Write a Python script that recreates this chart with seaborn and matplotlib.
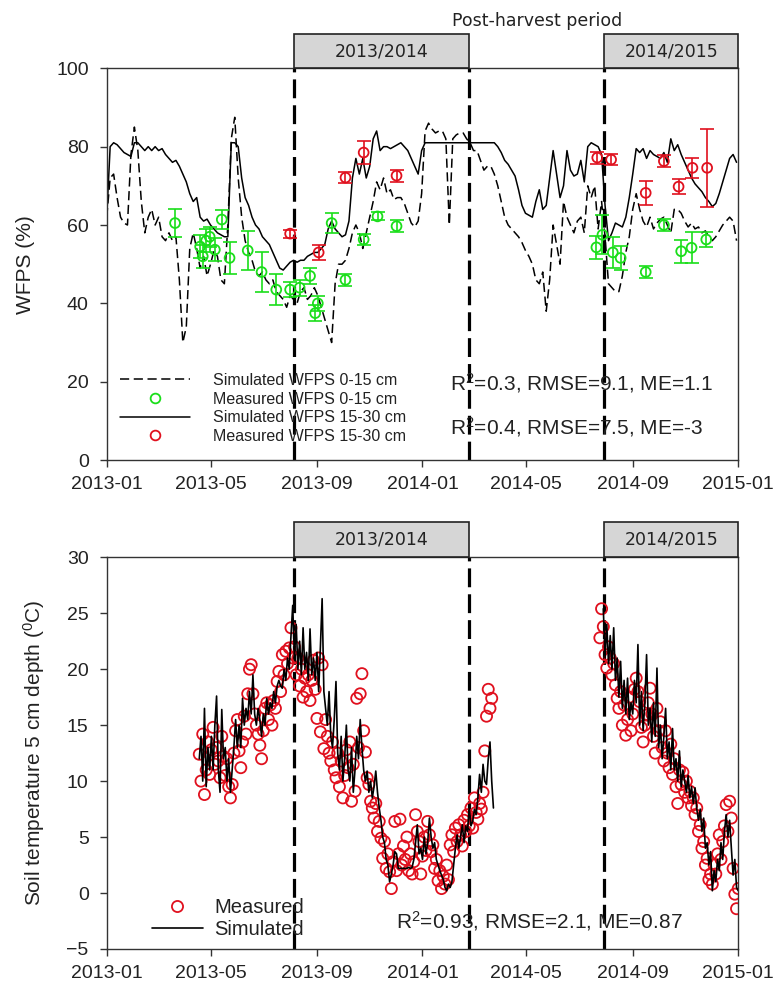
import matplotlib
matplotlib.use("Agg")
import matplotlib.pyplot as plt
import matplotlib.dates as mdates
from matplotlib.lines import Line2D
from matplotlib.patches import Rectangle
import numpy as np
import pandas as pd
import seaborn as sns

# ---------------- WFPS (top panel) ----------------
wfps_start = "2013-01-01"
wfps_step_days = 4

sim_wfps_0_15 = [
    62, 72, 73, 67, 62, 60.5, 60, 78, 85, 79,
    66, 58, 62, 64, 60, 62, 57, 56, 58, 56,
    57, 46, 30, 34, 54, 58, 54, 49, 52, 47,
    50, 53.5, 52, 46, 45, 60, 82, 87.5, 72, 62,
    56, 53, 51, 48, 47, 48, 46, 45, 46, 43,
    42, 41, 39, 42, 41, 40, 43, 44, 41, 42,
    44, 42, 39, 36, 33, 30, 45, 50, 50, 51,
    54, 58, 60, 58, 54, 58, 62, 66, 71, 69,
    72, 68, 69, 66.5, 67, 67, 65.5, 63, 60.5, 59.5,
    61, 68, 84, 86, 84.5, 83.5, 84, 84, 82, 60,
    82, 83, 83.5, 83.5, 82, 81, 79, 79, 76.5, 74,
    75, 75, 73, 70, 66, 62, 60, 59, 58, 57,
    55.5, 53.5, 52, 50, 46, 45, 48, 38, 46, 60,
    55, 50, 66, 62, 60, 58, 61, 62, 58, 70,
    67, 70, 59, 66, 57, 45, 44, 43, 43, 47,
    53, 57, 64, 68, 64, 61, 59.5, 62, 59, 60.5,
    61.5, 62, 60, 58, 64, 64, 63, 61, 59.5, 60.5,
    59, 59.5, 58, 58.5, 57, 56, 57, 58.5, 60, 61,
    62, 61, 56,
]

sim_wfps_15_30 = [
    62, 80, 81, 80.5, 79.5, 78.5, 78, 77.5, 81, 81,
    80, 79, 80, 79, 80, 79, 79.5, 78, 77, 76,
    76.5, 75, 73, 71, 68, 66, 67, 62, 61, 61.5,
    60, 59, 58, 57.5, 57, 57, 81, 81, 80, 72,
    67, 65, 62, 60, 59, 57, 56, 55, 53, 51,
    49, 48.5, 49.5, 50.5, 51, 50.5, 51, 51, 52, 52.5,
    53, 53, 54, 55, 59, 61, 59, 58, 57, 57.5,
    61, 72, 77, 73, 77, 72, 75, 82, 84, 79,
    80, 80, 79.5, 80, 80.5, 81, 80, 79, 77, 75,
    73, 79, 81, 81, 81, 81, 81, 81, 81, 81,
    81, 81, 81, 81, 81, 81, 81, 81, 81, 81,
    81, 81, 81, 80, 78.5, 76.5, 75.5, 74, 72.5, 69,
    65, 63, 62.5, 62, 66, 69, 64, 65, 72, 79,
    73, 67, 70, 79, 74, 72.5, 73, 76.5, 71, 80,
    81, 80.5, 80, 78, 65, 56, 58, 60.5, 60, 59.5,
    62, 67, 73, 79.5, 78.5, 79.5, 77, 79, 78, 77.5,
    77, 78.5, 76, 82, 79, 80.5, 78, 76, 74, 72,
    70.5, 69.5, 68.5, 67, 66, 64.7, 65.5, 68, 71, 74,
    77, 78, 76,
]

meas_0_15_dates = [
    "2013-03-21", "2013-04-19", "2013-04-22", "2013-04-26", "2013-04-30",
    "2013-05-06", "2013-05-14", "2013-05-23", "2013-06-13", "2013-06-29",
    "2013-07-16", "2013-08-01", "2013-08-12", "2013-08-24", "2013-08-30",
    "2013-09-02", "2013-09-18", "2013-10-04", "2013-10-25", "2013-11-10",
    "2013-12-02", "2014-07-21", "2014-07-28", "2014-08-09", "2014-08-18",
    "2014-09-16", "2014-10-07", "2014-10-27", "2014-11-08", "2014-11-25",
]
meas_0_15 = [
    60.5, 54.5, 52, 56, 57, 53.7, 61.4, 51.6, 53.5, 48,
    43.5, 43.5, 44, 47, 37.5, 40, 60.5, 46, 56.3, 62.2,
    59.7, 54.3, 57.5, 53, 51.6, 48, 60, 53.3, 54.2, 56.3,
]
meas_0_15_err = [
    3.5, 3, 3, 3, 2.5, 3, 2.5, 4, 5, 5,
    4, 2, 2, 2, 2, 2, 2.5, 1.5, 1.5, 1,
    1.5, 3, 5, 4, 3, 1.5, 1.5, 3, 4, 2,
]

meas_15_30_dates = [
    "2013-08-01", "2013-09-03", "2013-10-04", "2013-10-25", "2013-12-02",
    "2014-07-22", "2014-08-07", "2014-09-16", "2014-10-07", "2014-10-24",
    "2014-11-09", "2014-11-26",
]
meas_15_30 = [57.8, 53, 72.1, 78.5, 72.6, 77.2, 76.7, 68.2, 76.3, 69.8, 74.6, 74.6]
meas_15_30_err = [1, 2, 1.5, 3, 1.5, 1.5, 1.5, 3, 1.5, 2, 2.5, 10]

wfps_stats = ["R$^2$=0.3, RMSE=9.1, ME=1.1", "R$^2$=0.4, RMSE=7.5, ME=-3"]

# ---------------- Soil temperature (bottom panel) ----------------
temp_step_days = 2
temp_meas_1_start = "2013-04-18"
temp_meas_1 = [
    12.4, 10, 14.2, 8.8, 11, 13.5, 10.6, 12.8, 14.8, 11.5,
    13, 11.8, 10.3, 14, 12.2, 10.5, 12, 9.5, 8.5, 9.7,
    12.5, 14.5, 15.5, 12.7, 11.2, 13.5, 15.8, 14.2, 17.8, 20,
    20.4, 17.8, 16, 15, 14.2, 13.2, 12, 14.5, 16.5, 17,
    15.5, 16.8, 15, 17.2, 16.5, 18.9, 19.8, 18, 21.3, 19.5,
    21.6, 20.5, 21.9, 23.7, 21, 22, 19.5, 21, 18.5, 20,
    17.5, 19.2, 18, 19.5, 17.2, 19, 20.8, 18.2, 15.6, 21,
    14.4, 20.4, 12.9, 15.5, 14, 12.5, 11.8, 13.5, 11, 10.3,
    12.5, 9.5, 11.8, 8.5, 10.5, 12.8, 11.2, 13.5, 8.2, 11.5,
    9.1, 17.4, 13, 17.8, 19.6, 14.5, 12.6, 10.3, 9.7, 8.2,
    7.6, 6.7, 8, 5.5, 6.4, 4.9, 3.1, 4.6, 2.2, 3.5,
    1.9, 0.4, 2.8, 6.4, 2, 3.5, 6.6, 2.5, 4.2, 3,
    5, 2, 3.5, 1.7, 2.8, 7, 5.5, 4.6, 1.7, 3.3,
    5, 3.8, 6.4, 5.2, 3.7, 4.3, 2.2, 3, 1.1, 2,
    0.4, 1.5, 0.8, 2.5, 1.2, 4.3, 5.2, 3.7, 5.8, 4.6,
    6.1, 5.2, 4.2, 6.5, 5.5, 7, 6, 7.6, 5.8, 8.5,
    7.2, 6.6, 8, 7.5, 9, 12.7, 15.8, 18.2, 16.5, 17.4,
]
temp_sim_1_start = "2013-04-18"
temp_sim_1 = [
    12, 14, 10, 16.5, 9.5, 13, 11, 14, 11, 15,
    17.6, 11, 9, 16.4, 12, 13, 10, 12, 9, 11,
    13, 15.5, 13, 15, 13, 17.4, 15, 16.5, 15.5, 18,
    16, 19.5, 16, 15, 16.5, 15.5, 14, 16, 15, 17.4,
    16, 17, 16.5, 18, 17, 18.5, 19, 18.5, 18.3, 20,
    19, 21, 20, 23, 25.7, 21, 24, 20, 22.5, 19.5,
    23.7, 20, 21.5, 19, 23.6, 19.5, 21, 19, 21.5, 18,
    22, 26.3, 18, 16.5, 15, 18, 14, 13, 15.5, 18.9,
    12.5, 11, 14, 10, 12, 15, 11, 10, 13, 9,
    11, 14, 12, 15.5, 13, 11, 10, 10.9, 9, 10,
    8.5, 9.5, 10.9, 9, 7.6, 6.5, 5, 4.5, 3, 2.5,
    1, 1.7, 2.5, 3.7, 3.5, 2.2, 2.2, 2.2, 2.2, 2.2,
    2.2, 2.3, 2.2, 2.3, 3, 4.5, 6.1, 3.5, 4, 3,
    5, 3.5, 4.5, 6.7, 5, 4, 4.5, 3, 2.5, 2,
    1.6, 1.2, 0.5, 0.2, 0.8, 0.5, 1, 2.5, 4, 5.2,
    4, 5, 6.1, 4.5, 6, 5.5, 7.6, 6, 6.4, 7.5,
    7, 8.5, 10.6, 9, 11.5, 10, 9.7, 12, 13.5, 10,
    7.6,
]
temp_meas_2_start = "2014-07-25"
temp_meas_2 = [
    22.8, 25.4, 23.8, 21.3, 20.1, 22, 21, 19.5, 20.5, 18.6,
    17.4, 16.5, 18, 15, 16.8, 14.1, 15.5, 17.5, 14.5, 16,
    18.2, 19.2, 18, 17.1, 14.8, 13.5, 15, 15.9, 17, 18.3,
    16, 14, 12.5, 16.5, 14.5, 15.3, 13, 11.8, 14.5, 12.5,
    11.2, 13.3, 10.6, 12, 9.5, 8, 11, 9.7, 10.8, 9,
    10, 8.5, 9.1, 7.8, 8.5, 7, 7.6, 5.5, 6.1, 4,
    4.6, 2.5, 3.1, 1.2, 1.7, 0.8, 2.5, 1.7, 3.5, 5.2,
    3, 4.6, 6, 7.9, 5.5, 8.2, 6.7, 2.2, -0.1, -1.4,
    0.4,
]
temp_sim_2_start = "2014-07-29"
temp_sim_2 = [
    25.4, 21, 24, 20.5, 23, 20, 23.7, 19, 21, 17.5,
    20.7, 16.5, 19, 16, 19.2, 15.5, 17, 16, 19, 17,
    22.2, 15, 18, 14.5, 17, 21.3, 15, 16.5, 13.5, 17,
    14, 20.1, 13, 15, 12, 14, 16.5, 12, 13.5, 11,
    14.7, 11, 12, 10, 12.7, 9.5, 11, 10, 9, 10.5,
    8.5, 9.5, 8, 9.4, 7.5, 6.5, 7.5, 5.5, 6.7, 4,
    4.5, 2.5, 3.7, 0.2, 2, 1, 3, 2, 4.5, 3,
    5.5, 7, 5, 6.5, 4, 1.6, 3, 0.5, 0.2,
]
temp_stats = "R$^2$=0.93, RMSE=2.1, ME=0.87"

# ---------------- Shared period markers ----------------
season_labels = ["2013/2014", "2014/2015"]
season_spans = [("2013-08-06", "2014-02-24"), ("2014-07-30", "2015-01-01")]
x_tick_dates = ["2013-01-01", "2013-05-01", "2013-09-01", "2014-01-01",
                "2014-05-01", "2014-09-01", "2015-01-01"]


def regular_series(start, step_days, values):
    return pd.DataFrame({
        "date": pd.date_range(start, periods=len(values), freq=f"{step_days}D"),
        "value": values,
    })


sns.set_style("ticks")
plt.rcParams["font.family"] = ["Liberation Sans", "DejaVu Sans"]
plt.rcParams["mathtext.fontset"] = "custom"
plt.rcParams["mathtext.rm"] = "Liberation Sans"
plt.rcParams["mathtext.it"] = "Liberation Sans"

GREEN = "#1ade1a"
RED = "#e0101e"
TXT = "#222222"

fig = plt.figure(figsize=(7.76, 9.83), dpi=100)
ax1 = fig.add_axes([0.1375, 0.532, 0.8139, 0.3985])
ax2 = fig.add_axes([0.1375, 0.0346, 0.8139, 0.3985])

# --- top panel: WFPS ---
df_sim_a = regular_series(wfps_start, wfps_step_days, sim_wfps_0_15)
df_sim_b = regular_series(wfps_start, wfps_step_days, sim_wfps_15_30)
sns.lineplot(data=df_sim_a, x="date", y="value", ax=ax1, color="k",
             linewidth=1.1, estimator=None, sort=False)
ax1.lines[-1].set_dashes([6, 3])
sns.lineplot(data=df_sim_b, x="date", y="value", ax=ax1, color="k",
             linewidth=1.1, estimator=None, sort=False)

for dates, vals, errs, col in [
    (meas_0_15_dates, meas_0_15, meas_0_15_err, GREEN),
    (meas_15_30_dates, meas_15_30, meas_15_30_err, RED),
]:
    d = pd.to_datetime(dates)
    ax1.errorbar(d, vals, yerr=errs, fmt="none", ecolor=col, elinewidth=1.2,
                 capsize=5, capthick=1.2, zorder=3)
    sns.scatterplot(x=d, y=vals, ax=ax1, marker="o", s=50, linewidth=1.3,
                    zorder=4, legend=False)
    coll = ax1.collections[-1]
    coll.set_facecolor("none")
    coll.set_edgecolor(col)

ax1.set_ylim(0, 100)
ax1.set_yticks(np.arange(0, 101, 20))
ax1.set_ylabel("WFPS (%)", fontsize=15, color=TXT)
ax1.yaxis.set_label_coords(-0.1135, 0.5)

handles1 = [
    Line2D([], [], color="k", lw=1.1, dashes=(6, 3)),
    Line2D([], [], ls="none", marker="o", mfc="none", mec=GREEN, ms=7, mew=1.3),
    Line2D([], [], color="k", lw=1.1),
    Line2D([], [], ls="none", marker="o", mfc="none", mec=RED, ms=7, mew=1.3),
]
labels1 = ["Simulated WFPS 0-15 cm", "Measured WFPS 0-15 cm",
           "Simulated WFPS 15-30 cm", "Measured WFPS 15-30 cm"]
leg1 = ax1.legend(handles1, labels1, loc="center left",
                  bbox_to_anchor=(0.021, 0.132), frameon=False, fontsize=11.5,
                  handlelength=4.4, handletextpad=1.45, labelspacing=0.22,
                  borderpad=0, borderaxespad=0)
for t in leg1.get_texts():
    t.set_color(TXT)
ax1.text(0.5435, 0.197, wfps_stats[0], transform=ax1.transAxes, va="center",
         ha="left", fontsize=15, color=TXT)
ax1.text(0.5435, 0.084, wfps_stats[1], transform=ax1.transAxes, va="center",
         ha="left", fontsize=15, color=TXT)

# --- bottom panel: soil temperature ---
for start, vals in [(temp_meas_1_start, temp_meas_1), (temp_meas_2_start, temp_meas_2)]:
    df = regular_series(start, temp_step_days, vals)
    sns.scatterplot(data=df, x="date", y="value", ax=ax2, marker="o", s=64,
                    linewidth=1.3, zorder=3, legend=False)
    coll = ax2.collections[-1]
    coll.set_facecolor("none")
    coll.set_edgecolor(RED)
for start, vals in [(temp_sim_1_start, temp_sim_1), (temp_sim_2_start, temp_sim_2)]:
    df = regular_series(start, temp_step_days, vals)
    sns.lineplot(data=df, x="date", y="value", ax=ax2, color="k", linewidth=1.2,
                 estimator=None, sort=False, zorder=4)

ax2.set_ylim(-5, 30)
ax2.set_yticks(np.arange(-5, 31, 5))
ax2.set_ylabel("Soil temperature 5 cm depth ($^0$C)", fontsize=15, color=TXT)
ax2.yaxis.set_label_coords(-0.0945, 0.5)

handles2 = [
    Line2D([], [], ls="none", marker="o", mfc="none", mec=RED, ms=8, mew=1.3),
    Line2D([], [], color="k", lw=1.2),
]
leg2 = ax2.legend(handles2, ["Measured", "Simulated"], loc="center left",
                  bbox_to_anchor=(0.072, 0.078), frameon=False, fontsize=14.5,
                  handlelength=2.5, handletextpad=0.6, labelspacing=0.15,
                  borderpad=0, borderaxespad=0)
for t in leg2.get_texts():
    t.set_color(TXT)
ax2.text(0.458, 0.071, temp_stats, transform=ax2.transAxes, va="center",
         ha="left", fontsize=15, color=TXT)

# --- shared styling, season boxes and boundaries ---
ticks = pd.to_datetime(x_tick_dates)
for ax, box_h in [(ax1, 0.0868), (ax2, 0.089)]:
    ax.set_xlim(pd.Timestamp("2013-01-01"), pd.Timestamp("2015-01-01"))
    ax.set_xticks(ticks)
    ax.xaxis.set_major_formatter(mdates.DateFormatter("%Y-%m"))
    ax.set_xlabel("")
    ax.tick_params(direction="out", length=5, width=1, labelsize=14,
                   labelcolor=TXT, color="#333333")
    ax.tick_params(axis="x", pad=6.5)
    ax.tick_params(axis="y", pad=8)
    for sp in ax.spines.values():
        sp.set_visible(True)
        sp.set_linewidth(1.0)
        sp.set_color("#333333")
    trans = ax.get_xaxis_transform()
    for lab, (s, e) in zip(season_labels, season_spans):
        x0 = mdates.date2num(pd.Timestamp(s))
        x1 = mdates.date2num(pd.Timestamp(e))
        ax.add_patch(Rectangle((x0, 1.0), x1 - x0, box_h, transform=trans,
                               facecolor="#d6d6d6", edgecolor="#222222",
                               linewidth=1.2, clip_on=False, zorder=5))
        ax.text((x0 + x1) / 2, 1.0 + box_h / 2, lab, transform=trans,
                ha="center", va="center", fontsize=12.5, color=TXT,
                family=["DejaVu Sans"], zorder=6)
    for d in ["2013-08-06", "2014-02-24", "2014-07-30"]:
        ax.axvline(pd.Timestamp(d), color="k", lw=2.3,
                   linestyle=(0, (5.9, 2.2)), zorder=2)

fig.text(537 / 776, 1 - 21 / 983, "Post-harvest period", ha="center",
         va="center", fontsize=12.5, color=TXT, family=["DejaVu Sans"])

fig.savefig("out.png", dpi=100)
